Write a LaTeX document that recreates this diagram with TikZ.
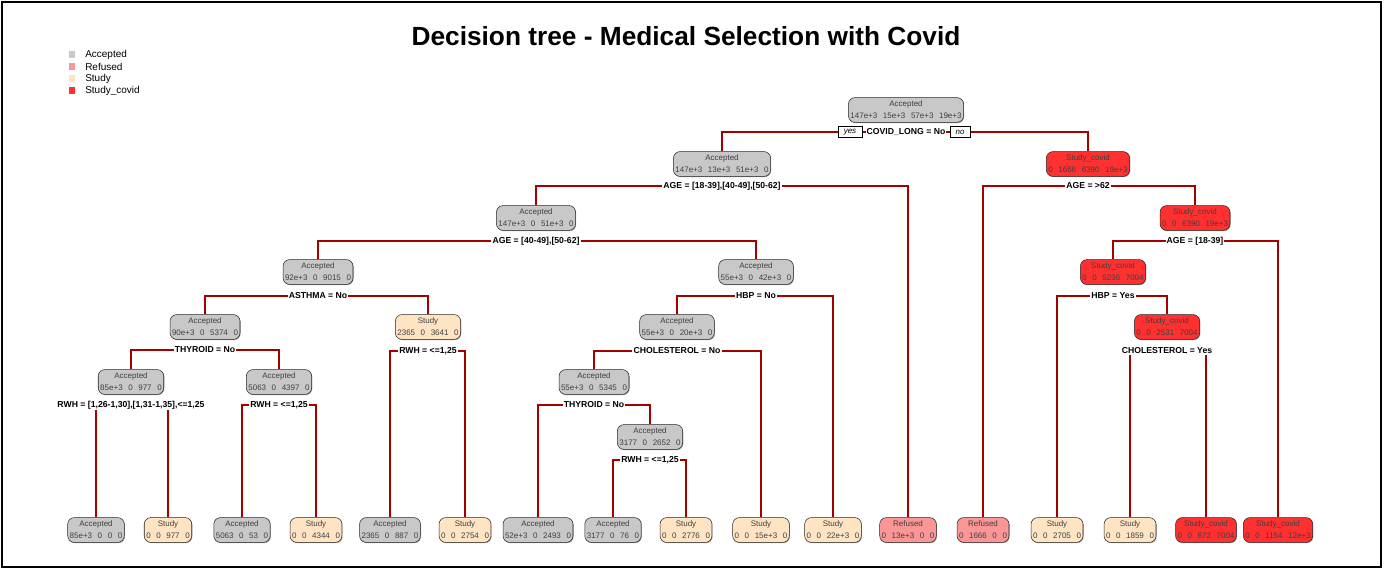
\documentclass[tikz,border=0pt]{standalone}
\usepackage{fontspec}
\setmainfont{Liberation Sans}
\usetikzlibrary{backgrounds,shadows}

\definecolor{accgray}{RGB}{200,200,200}
\definecolor{refpink}{RGB}{250,150,150}
\definecolor{studypeach}{RGB}{255,228,196}
\definecolor{covidred}{RGB}{255,48,48}
\definecolor{branchred}{RGB}{165,0,0}

\newcommand{\ngap}{\hspace{0.7em}}

\tikzset{
  box/.style={rectangle, rounded corners=5pt, draw=black!85, thin, align=center,
    inner xsep=1.5pt, inner ysep=2.6pt, text=black!75, font=\fontsize{6}{9}\selectfont,
    drop shadow={shadow xshift=0.5pt, shadow yshift=-0.6pt, opacity=0.7}},
  acc/.style={box, fill=accgray},
  refu/.style={box, fill=refpink},
  study/.style={box, fill=studypeach},
  covid/.style={box, fill=covidred},
  split/.style={fill=white, inner sep=0.8pt, font=\fontsize{6.5}{7}\selectfont\bfseries},
  yesno/.style={draw=black, fill=white, thin, inner xsep=2pt, inner ysep=1.6pt,
    minimum height=8pt, font=\fontsize{6}{6}\selectfont\itshape},
  branch/.style={draw=branchred, line width=1.5pt},
  legsq/.style={minimum size=5pt, inner sep=0pt}
}

\begin{document}
\begin{tikzpicture}[x=0.75pt,y=-0.75pt]
\useasboundingbox (0,0) rectangle (1384,570);

%frame and title
\draw[line width=2pt] (2,2) rectangle (1381,567);
\node[font=\fontsize{19.7}{22}\selectfont\bfseries] (title) at (686,36) {Decision tree - Medical Selection with Covid};

%legend
\node[legsq, fill=accgray]    (kacc) at (72,54.5) {};
\node[legsq, fill=refpink]    (kref) at (72,66.7) {};
\node[legsq, fill=studypeach] (kstu) at (72,78.8) {};
\node[legsq, fill=covidred]   (kcov) at (72,90.8) {};
\node[right, inner sep=0pt, font=\fontsize{7.5}{9}\selectfont] at (85,54.5) {Accepted};
\node[right, inner sep=0pt, font=\fontsize{7.5}{9}\selectfont] at (85,66.7) {Refused};
\node[right, inner sep=0pt, font=\fontsize{7.5}{9}\selectfont] at (85,78.8) {Study};
\node[right, inner sep=0pt, font=\fontsize{7.5}{9}\selectfont] at (85,90.8) {Study\_covid};

%inner nodes
\node[acc]   (n1)  at (906,110)  {Accepted\\147e+3\ngap15e+3\ngap57e+3\ngap19e+3};
\node[acc]   (n2)  at (722,164)  {Accepted\\147e+3\ngap13e+3\ngap51e+3\ngap0};
\node[covid] (n3)  at (1088,164) {Study\_covid\\0\ngap1666\ngap6390\ngap19e+3};
\node[acc]   (n4)  at (536,218)  {Accepted\\147e+3\ngap0\ngap51e+3\ngap0};
\node[covid] (n7)  at (1195,218) {Study\_covid\\0\ngap0\ngap6390\ngap19e+3};
\node[acc]   (n8)  at (318,272)  {Accepted\\92e+3\ngap0\ngap9015\ngap0};
\node[acc]   (n9)  at (756,272)  {Accepted\\55e+3\ngap0\ngap42e+3\ngap0};
\node[covid] (n14) at (1113,272) {Study\_covid\\0\ngap0\ngap5236\ngap7004};
\node[acc]   (n16) at (205,327)  {Accepted\\90e+3\ngap0\ngap5374\ngap0};
\node[study] (n17) at (428,327)  {Study\\2365\ngap0\ngap3641\ngap0};
\node[acc]   (n18) at (677,327)  {Accepted\\55e+3\ngap0\ngap20e+3\ngap0};
\node[covid] (n28) at (1167,327) {Study\_covid\\0\ngap0\ngap2531\ngap7004};
\node[acc]   (n32) at (131,382)  {Accepted\\85e+3\ngap0\ngap977\ngap0};
\node[acc]   (n33) at (279,382)  {Accepted\\5063\ngap0\ngap4397\ngap0};
\node[acc]   (n36) at (594,382)  {Accepted\\55e+3\ngap0\ngap5345\ngap0};
\node[acc]   (n73) at (650,437)  {Accepted\\3177\ngap0\ngap2652\ngap0};

%leaves
\node[acc]   (l1)  at (96,530)   {Accepted\\85e+3\ngap0\ngap0\ngap0};
\node[study] (l2)  at (168,530)  {Study\\0\ngap0\ngap977\ngap0};
\node[acc]   (l3)  at (242,530)  {Accepted\\5063\ngap0\ngap53\ngap0};
\node[study] (l4)  at (316,530)  {Study\\0\ngap0\ngap4344\ngap0};
\node[acc]   (l5)  at (390,530)  {Accepted\\2365\ngap0\ngap887\ngap0};
\node[study] (l6)  at (465,530)  {Study\\0\ngap0\ngap2754\ngap0};
\node[acc]   (l7)  at (538,530)  {Accepted\\52e+3\ngap0\ngap2493\ngap0};
\node[acc]   (l8)  at (613,530)  {Accepted\\3177\ngap0\ngap76\ngap0};
\node[study] (l9)  at (686,530)  {Study\\0\ngap0\ngap2776\ngap0};
\node[study] (l10) at (761,530)  {Study\\0\ngap0\ngap15e+3\ngap0};
\node[study] (l11) at (833,530)  {Study\\0\ngap0\ngap22e+3\ngap0};
\node[refu]  (l12) at (908,530)  {Refused\\0\ngap13e+3\ngap0\ngap0};
\node[refu]  (l13) at (983,530)  {Refused\\0\ngap1666\ngap0\ngap0};
\node[study] (l14) at (1057,530) {Study\\0\ngap0\ngap2705\ngap0};
\node[study] (l15) at (1130,530) {Study\\0\ngap0\ngap1859\ngap0};
\node[covid] (l16) at (1206,530) {Study\_covid\\0\ngap0\ngap672\ngap7004};
\node[covid] (l17) at (1278,530) {Study\_covid\\0\ngap0\ngap1154\ngap12e+3};

%split labels
\node[split] (s1)  at (906,132)  {COVID\_LONG = No};
\node[split] (s2)  at (722,186)  {AGE = [18-39],[40-49],[50-62]};
\node[split] (s3)  at (1088,186) {AGE = >62};
\node[split] (s4)  at (536,241)  {AGE = [40-49],[50-62]};
\node[split] (s7)  at (1195,241) {AGE = [18-39]};
\node[split] (s8)  at (318,296)  {ASTHMA = No};
\node[split] (s9)  at (756,296)  {HBP = No};
\node[split] (s14) at (1113,296) {HBP = Yes};
\node[split] (s16) at (205,350)  {THYROID = No};
\node[split] (s17) at (428,351)  {RWH = <=1,25};
\node[split] (s18) at (677,351)  {CHOLESTEROL = No};
\node[split] (s28) at (1167,351) {CHOLESTEROL = Yes};
\node[split] (s32) at (131,405)  {RWH = [1,26-1,30],[1,31-1,35],<=1,25};
\node[split] (s33) at (279,405)  {RWH = <=1,25};
\node[split] (s36) at (594,405)  {THYROID = No};
\node[split] (s73) at (650,460)  {RWH = <=1,25};

%yes / no tags on the first split
\node[yesno, minimum width=18pt] (yes) at (850,132) {yes};
\node[yesno, minimum width=15pt] (no)  at (960,132) {no};

%branches, behind the labels
\begin{scope}[on background layer]
\draw[branch] (n2.north)  |- (s1.center)  -| (n3.north);
\draw[branch] (n4.north)  |- (s2.center)  -| (l12.north);
\draw[branch] (l13.north) |- (s3.center)  -| (n7.north);
\draw[branch] (n8.north)  |- (s4.center)  -| (n9.north);
\draw[branch] (n14.north) |- (s7.center)  -| (l17.north);
\draw[branch] (n16.north) |- (s8.center)  -| (n17.north);
\draw[branch] (n18.north) |- (s9.center)  -| (l11.north);
\draw[branch] (l14.north) |- (s14.center) -| (n28.north);
\draw[branch] (n32.north) |- (s16.center) -| (n33.north);
\draw[branch] (l5.north)  |- (s17.center) -| (l6.north);
\draw[branch] (n36.north) |- (s18.center) -| (l10.north);
\draw[branch] (l15.north) |- (s28.center) -| (l16.north);
\draw[branch] (l1.north)  |- (s32.center) -| (l2.north);
\draw[branch] (l3.north)  |- (s33.center) -| (l4.north);
\draw[branch] (l7.north)  |- (s36.center) -| (n73.north);
\draw[branch] (l8.north)  |- (s73.center) -| (l9.north);
\end{scope}

\end{tikzpicture}
\end{document}
